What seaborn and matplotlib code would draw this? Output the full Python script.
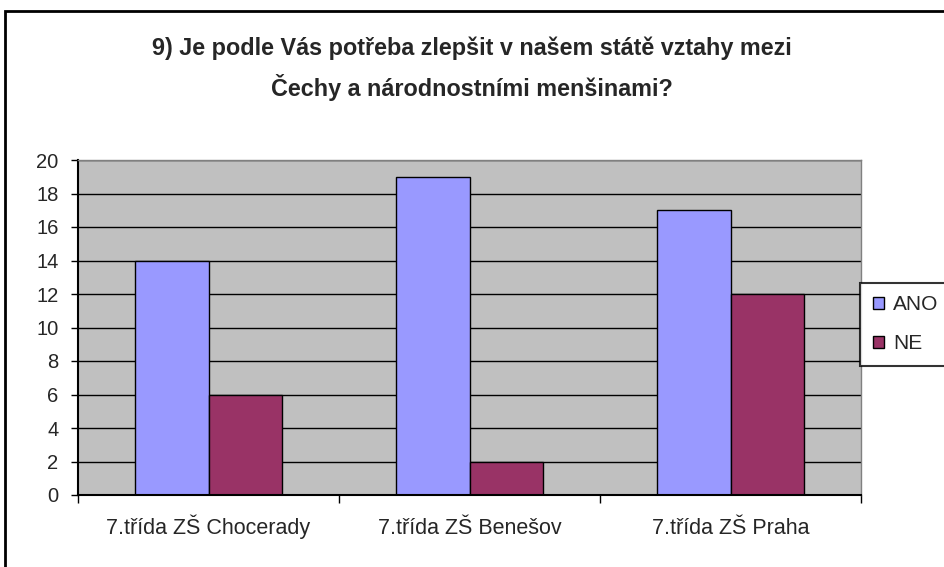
import matplotlib
matplotlib.use("Agg")
import matplotlib.pyplot as plt
import matplotlib.patches as mpatches
import seaborn as sns
import pandas as pd

# data
schools = ["7.třída ZŠ Chocerady", "7.třída ZŠ Benešov", "7.třída ZŠ Praha"]
ano = [14, 19, 17]
ne = [6, 2, 12]
series = ["ANO", "NE"]
colors = ["#9999FF", "#993366"]
title = "9) Je podle Vás potřeba zlepšit v našem státě vztahy mezi\nČechy a národnostními menšinami?"

sns.set_theme(style="white")
plt.rcParams["font.family"] = ["Liberation Sans", "DejaVu Sans"]

df = pd.DataFrame({
    "school": schools * 2,
    "answer": ["ANO"] * 3 + ["NE"] * 3,
    "count": ano + ne,
})

fig = plt.figure(figsize=(9.44, 5.67), dpi=100)
ax = fig.add_axes([78 / 944, 1 - 495 / 567, (861 - 78) / 944, (495 - 160) / 567])
ax.set_facecolor("#C0C0C0")

sns.barplot(
    data=df, x="school", y="count", hue="answer", hue_order=series,
    palette=colors, width=0.567, edgecolor="black", linewidth=1,
    ax=ax, legend=False, saturation=1,
)

ax.set_ylim(0, 20)
ax.set_xlim(-0.5, 2.5)
ax.set_yticks(range(0, 21, 2))
ax.grid(axis="y", color="black", linewidth=1)
ax.set_axisbelow(True)
ax.set_xlabel("")
ax.set_ylabel("")
ax.tick_params(axis="y", labelsize=14.5, length=5, width=1, color="black",
               direction="out", left=True, pad=9)
ax.set_xticks([0, 1, 2])
ax.set_xticks([-0.5, 0.5, 1.5, 2.5], minor=True)
ax.tick_params(axis="x", which="major", length=0, labelsize=15.5, pad=28)
ax.tick_params(axis="x", which="minor", length=6, width=1, color="black",
               direction="out", bottom=True)
for lbl in ax.get_xticklabels():
    lbl.set_verticalalignment("baseline")
for s in ["left", "bottom"]:
    ax.spines[s].set_color("black")
    ax.spines[s].set_linewidth(1.5)
for s in ["top", "right"]:
    ax.spines[s].set_color("#808080")
    ax.spines[s].set_linewidth(1)

fig.suptitle(title, x=0.5, y=1 - 37 / 567, fontsize=16.8, fontweight="bold",
             linespacing=1.62, va="top")

# outer chart frame
fig.patches.append(mpatches.Rectangle(
    (5 / 944, -0.1), 1.2, 1 - 11 / 567 + 0.1, transform=fig.transFigure,
    fill=False, edgecolor="black", linewidth=2, clip_on=False))

handles = [mpatches.Patch(facecolor=c, edgecolor="black", label=l)
           for c, l in zip(colors, series)]
leg = fig.legend(
    handles=handles, loc="upper left",
    bbox_to_anchor=(860 / 944, 1 - 283 / 567), fontsize=15,
    frameon=True, fancybox=False, handlelength=0.55, handleheight=0.55,
    handletextpad=0.45, labelspacing=0.95, borderpad=0.6, borderaxespad=0,
)
leg.get_frame().set_edgecolor("black")
leg.get_frame().set_linewidth(1.5)
leg.get_frame().set_facecolor("white")

fig.savefig("out.png", dpi=100)
